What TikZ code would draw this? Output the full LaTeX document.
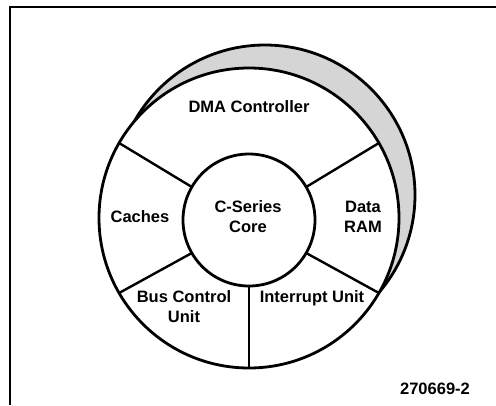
\documentclass[tikz,border=0pt]{standalone}
\usepackage{fontspec}
\setmainfont{Liberation Sans}
\begin{document}
\begin{tikzpicture}[x=1pt,y=-1pt,
  lbl/.style={font=\fontsize{16.5}{20}\selectfont\bfseries, align=center, inner sep=0pt},
  thickline/.style={line width=2.8pt},
  spoke/.style={line width=2.4pt},
  frameline/.style={line width=1.8pt}]
\useasboundingbox (0,0) rectangle (496,405);
% frame
\draw[frameline] (10,405) -- (10,7) -- (496,7);
% shaded crescent (outer offset circle)
\draw[thickline, fill=gray!33] (265,195) circle[radius=150];
% main circle
\node[circle, draw, thickline, fill=white, minimum size=300pt, inner sep=0pt, outer sep=0pt] (ring) at (249,218) {};
% core circle
\node[circle, draw, thickline, fill=white, minimum size=132pt, inner sep=0pt, outer sep=0pt] (core) at (249,220) {};
% spokes
\draw[spoke] (core.150) -- (ring.150);
\draw[spoke] (core.30) -- (ring.30);
\draw[spoke] (core.210) -- (ring.210);
\draw[spoke] (core.330) -- (ring.330);
\draw[spoke] (core.south) -- (ring.south);
% labels
\node[lbl] (dma) at (249,107) {DMA Controller};
\node[lbl] (cs) at (248,217) {C-Series\\Core};
\node[lbl] (cache) at (140,217) {Caches};
\node[lbl] (dram) at (363,217) {Data\\RAM};
\node[lbl] (bus) at (184,307) {Bus Control\\Unit};
\node[lbl] (intr) at (312,298) {Interrupt Unit};
\node[lbl] (fig) at (435,389) {270669-2};
\end{tikzpicture}
\end{document}
